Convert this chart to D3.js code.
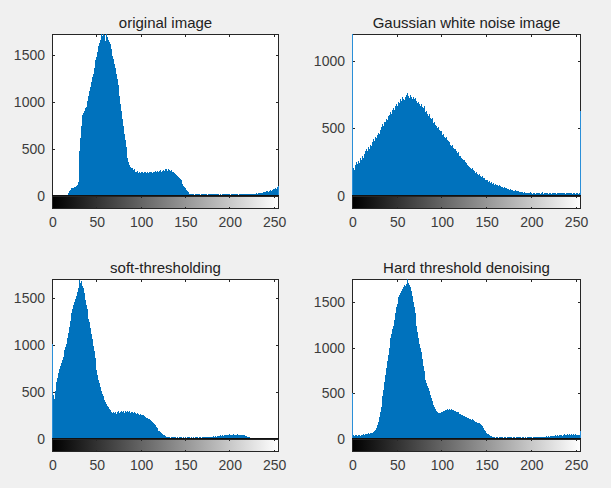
<!DOCTYPE html>
<html><head><meta charset="utf-8">
<script src="https://cdn.jsdelivr.net/npm/d3@7"></script>
<style>
body{margin:0;background:#f0f0f0;}
svg{display:block;}
text{font-family:"Liberation Sans",Arial,Helvetica,sans-serif;}
</style>
</head><body>
<svg id="chart" width="611" height="488"></svg>
<script>
// ---------------- DATA ----------------
const grayLevels = d3.range(256);            // categories: intensity bins 0..255
const xTickValues = [0, 50, 100, 150, 200, 250];
const titles = ["original image", "Gaussian white noise image", "soft-thresholding", "Hard threshold denoising"];
const yTicksA = [0, 500, 1000, 1500];
const yTicksB = [0, 500, 1000];
const yLimits = [1720, 1200, 1700, 1750];

const originalCounts = [
 0,0,0,0,0,0,0,0,0,0,0,0,0,0,0,0,
 0,0,30,50,65,75,80,90,85,95,100,110,120,150,260,480,
 620,740,860,880,900,930,940,960,1010,1060,1120,1160,1210,1260,1300,1360,
 1400,1440,1480,1530,1590,1620,1660,1720,1700,1740,1680,1710,1650,1730,1690,1660,
 1640,1600,1610,1560,1490,1450,1400,1360,1300,1240,1180,1130,1060,980,900,820,
 740,660,590,520,450,400,360,330,310,300,295,280,270,285,260,250,
 270,245,255,240,250,245,260,240,250,255,245,250,240,255,245,250,
 260,245,255,250,265,255,260,270,255,265,275,260,270,280,265,290,
 275,285,270,290,275,265,280,260,255,250,240,235,225,215,205,190,
 180,165,150,130,110,95,80,65,50,40,30,25,20,22,18,25,
 15,20,24,17,21,19,26,14,22,18,20,23,16,19,21,15,
 24,18,20,17,22,13,19,21,16,20,18,23,15,17,20,14,
 22,18,16,21,19,15,23,17,20,14,18,22,16,19,15,21,
 17,20,14,18,22,16,19,23,17,20,18,24,21,19,25,22,
 22,18,24,20,26,22,28,25,30,27,33,30,36,34,40,38,
 44,41,48,52,46,55,60,54,65,70,63,75,82,78,95,110
];

const noisyCounts = [
 3000,205,190,230,215,250,235,260,245,280,270,300,285,310,330,315,
 345,335,360,350,380,370,400,390,420,410,440,430,455,470,460,490,
 510,500,530,520,550,545,570,560,590,600,585,620,610,640,655,640,
 670,680,665,695,700,690,715,705,730,720,710,735,745,730,760,740,
 725,745,730,715,735,720,700,725,705,690,700,680,670,685,660,650,
 665,640,625,630,610,595,605,580,570,575,555,540,545,525,520,505,
 510,490,480,485,465,455,460,440,430,435,415,405,395,400,380,370,
 375,355,345,350,330,320,325,305,295,300,280,275,265,270,250,245,
 240,230,225,215,210,200,205,190,185,180,170,175,160,155,160,150,
 140,145,130,125,130,120,115,120,105,110,100,95,105,90,95,85,
 90,80,85,75,80,70,75,65,70,60,65,58,62,55,50,55,
 45,50,42,45,40,38,42,35,38,32,35,30,28,32,26,24,
 27,22,25,20,24,19,23,26,21,18,24,20,22,17,25,21,
 19,23,18,22,26,20,17,24,21,19,23,18,22,25,20,17,
 21,24,19,22,18,25,20,23,17,21,24,19,22,20,18,23,
 21,17,24,19,22,20,18,23,21,16,22,19,21,18,20,630
];

const softCounts = [
 1010,470,430,510,560,610,650,700,740,780,810,840,870,910,950,980,
 1010,1070,1130,1190,1250,1300,1340,1380,1420,1460,1490,1520,1560,1600,1640,1690,
 1660,1680,1630,1600,1550,1480,1420,1380,1320,1280,1240,1180,1120,1060,990,930,
 860,790,730,680,630,590,550,510,480,455,430,410,390,370,350,335,
 320,310,300,285,280,290,275,285,270,290,280,295,275,290,300,285,
 295,280,300,290,285,300,290,295,280,290,285,280,290,275,280,270,
 275,265,260,270,255,250,245,250,240,230,225,220,215,210,205,200,
 190,180,170,160,145,130,115,100,90,80,70,60,52,45,38,32,
 28,25,20,18,22,15,19,16,21,14,18,20,15,17,13,19,
 16,12,18,14,20,15,17,13,19,16,14,18,12,17,15,20,
 14,18,16,13,19,15,17,21,14,18,16,20,15,19,22,17,
 20,16,23,19,25,21,27,24,30,26,33,29,36,32,38,35,
 40,37,43,39,45,41,38,44,48,42,46,40,50,44,47,41,
 45,49,43,47,40,44,38,42,36,39,33,30,26,22,18,14,
 10,8,6,4,3,2,1,0,0,0,0,0,0,0,0,0,
 0,0,0,0,0,0,0,0,0,0,0,0,0,0,0,0
];

const hardCounts = [
 500,40,35,40,38,42,35,40,45,38,42,45,50,48,55,50,
 58,55,62,60,68,65,70,75,80,90,100,120,150,190,240,290,
 350,410,470,540,620,700,780,850,920,990,1050,1100,1150,1200,1240,1300,
 1380,1440,1480,1520,1550,1570,1600,1620,1640,1660,1680,1670,1700,1720,1745,1710,
 1680,1660,1620,1560,1500,1440,1380,1320,1240,1170,1100,1040,990,950,880,800,
 740,700,650,610,580,560,520,480,450,420,390,370,350,330,310,295,
 285,280,285,290,295,300,305,310,315,320,325,320,330,325,320,330,
 320,315,310,305,300,295,290,280,275,270,265,260,255,250,245,240,
 235,230,225,220,215,210,215,205,200,195,190,185,180,175,170,160,
 150,140,125,115,100,85,70,60,50,40,35,30,25,22,18,20,
 15,19,22,16,20,14,18,21,17,15,19,23,16,20,18,14,
 21,17,19,15,22,18,16,20,14,19,23,17,21,15,18,20,
 16,22,19,15,21,18,24,17,20,16,22,19,25,18,21,17,
 23,20,18,24,19,22,26,21,25,28,23,30,26,32,28,35,
 30,38,33,40,36,42,38,45,40,48,43,38,45,50,42,47,
 52,44,48,55,46,50,43,58,47,52,45,49,42,46,40,90
];

const seriesList = [originalCounts, noisyCounts, softCounts, hardCounts];
const yTickSets = [yTicksA, yTicksB, yTicksA, yTicksA];

// ---------------- LAYOUT ----------------
const panels = [
  {left: 52, right: 279, top: 34, zero: 196, cbBottom: 209, titleY: 28},
  {left: 352, right: 581, top: 34, zero: 196, cbBottom: 209, titleY: 28},
  {left: 52, right: 279, top: 279, zero: 439, cbBottom: 452, titleY: 273},
  {left: 352, right: 581, top: 279, zero: 439, cbBottom: 452, titleY: 273}
];

const svg = d3.select("#chart");
svg.append("rect").attr("width", 611).attr("height", 488).attr("fill", "#f0f0f0");

const defs = svg.append("defs");
const grad = defs.append("linearGradient").attr("id", "grayGrad")
  .attr("x1", "0%").attr("x2", "100%").attr("y1", "0%").attr("y2", "0%");
grad.append("stop").attr("offset", "0%").attr("stop-color", "#000");
grad.append("stop").attr("offset", "100%").attr("stop-color", "#fff");

const axisColor = "#262626";
const labelColor = "#3c3c3c";
const barColor = "#0072BD";
const fmt = d3.format("d");

panels.forEach((p, k) => {
  const counts = seriesList[k];
  const yMax = yLimits[k];
  const x = d3.scaleLinear().domain([0, 255]).range([p.left + 0.5, p.right - 0.5]);
  const y = d3.scaleLinear().domain([0, yMax]).range([p.zero, p.top]);
  const g = svg.append("g");

  // plot background
  g.append("rect").attr("x", p.left).attr("y", p.top)
    .attr("width", p.right - p.left).attr("height", p.zero - p.top)
    .attr("fill", "#fff");

  // ticks inside (top x, left/right y)
  const tk = g.append("g").attr("stroke", axisColor).attr("stroke-width", 1);
  xTickValues.forEach(v => {
    const xx = Math.round(x(v) - 0.5) + 0.5;
    tk.append("line").attr("x1", xx).attr("x2", xx).attr("y1", p.top).attr("y2", p.top + 3);
  });
  yTickSets[k].forEach(v => {
    const yy = Math.round(y(v)) + 0.5;
    tk.append("line").attr("x1", p.left).attr("x2", p.left + 3).attr("y1", yy).attr("y2", yy);
    tk.append("line").attr("x1", p.right - 3).attr("x2", p.right).attr("y1", yy).attr("y2", yy);
  });

  // box
  g.append("rect").attr("x", p.left + 0.5).attr("y", p.top + 0.5)
    .attr("width", p.right - p.left - 1).attr("height", p.zero - p.top - 1)
    .attr("fill", "none").attr("stroke", axisColor).attr("stroke-width", 1);

  // stems
  const clipId = "clip" + k;
  defs.append("clipPath").attr("id", clipId).append("rect")
    .attr("x", p.left).attr("y", p.top).attr("width", p.right - p.left).attr("height", p.zero - p.top);
  g.append("g").attr("clip-path", `url(#${clipId})`)
    .attr("shape-rendering", "crispEdges")
    .selectAll("line").data(grayLevels).join("line")
    .attr("x1", d => x(d)).attr("x2", d => x(d))
    .attr("y1", y(0)).attr("y2", d => y(Math.min(counts[d], yMax * 1.05)))
    .attr("stroke", (d) => (d === 0 || d === 255) ? "#2a8fd8" : barColor)
    .attr("stroke-width", 1);

  // y labels
  const yAxis = d3.axisLeft(y).tickValues(yTickSets[k]).tickFormat(fmt).tickSize(0).tickPadding(7);
  const ya = g.append("g").attr("transform", `translate(${p.left},0)`).call(yAxis);
  ya.select(".domain").remove();
  ya.selectAll("text").attr("font-size", 14).attr("fill", labelColor)
    .attr("font-family", '"Liberation Sans",Arial,sans-serif');

  // colorbar
  g.append("rect").attr("x", p.left + 0.5).attr("y", p.zero + 0.5)
    .attr("width", p.right - p.left - 1).attr("height", p.cbBottom - p.zero - 1)
    .attr("fill", "url(#grayGrad)").attr("stroke", axisColor).attr("stroke-width", 1);
  g.append("line").attr("x1", p.left).attr("x2", p.right)
    .attr("y1", p.zero - 0.5).attr("y2", p.zero - 0.5).attr("stroke", "#111").attr("stroke-width", 1);
  const cbt = g.append("g").attr("stroke", axisColor).attr("stroke-width", 1);
  xTickValues.forEach(v => {
    const xx = Math.round(x(v) - 0.5) + 0.5;
    cbt.append("line").attr("x1", xx).attr("x2", xx).attr("y1", p.zero).attr("y2", p.zero + 2);
    cbt.append("line").attr("x1", xx).attr("x2", xx).attr("y1", p.cbBottom - 2).attr("y2", p.cbBottom);
  });

  // x labels under colorbar
  const xAxis = d3.axisBottom(x).tickValues(xTickValues).tickFormat(fmt).tickSize(0).tickPadding(8);
  const xa = g.append("g").attr("transform", `translate(0,${p.cbBottom})`).call(xAxis);
  xa.select(".domain").remove();
  xa.selectAll("text").attr("font-size", 14).attr("fill", labelColor)
    .attr("font-family", '"Liberation Sans",Arial,sans-serif');

  // title
  g.append("text").attr("x", (p.left + p.right) / 2).attr("y", p.titleY)
    .attr("text-anchor", "middle").attr("font-size", 15).attr("fill", "#222")
    .text(titles[k]);
});
</script>
</body></html>
